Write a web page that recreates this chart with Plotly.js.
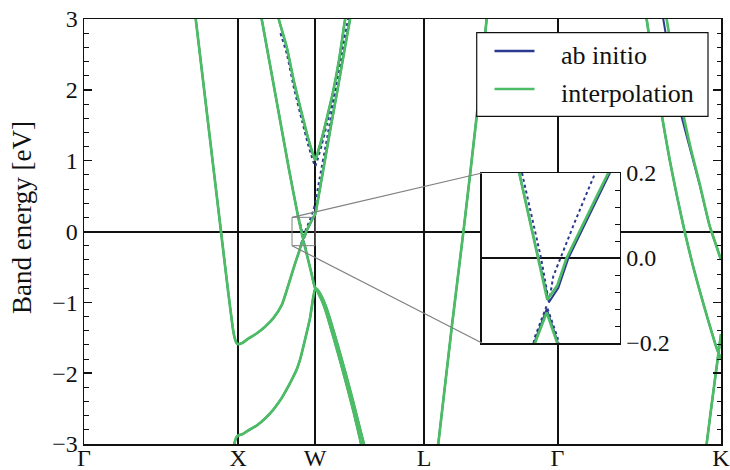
<!DOCTYPE html>
<html>
<head>
<meta charset="utf-8">
<script src="https://cdn.plot.ly/plotly-3.0.1.min.js"></script>
<style>html,body{margin:0;padding:0;background:#fff;}</style>
</head>
<body>
<div id="chart" style="width:730px;height:470px;"></div>
<script>
// High-symmetry points along the path Γ–X–W–L–Γ–K (path length in units of 2π/a)
const kLabels = ['Γ', 'X', 'W', 'L', 'Γ', 'K'];
const kTicks = [0, 1, 1.5, 2.2071, 3.0731, 4.1338];
const energyRange = [-3, 3];
const energyTitle = 'Band energy [eV]';

// Zoom window shown in the inset
const insetK = [1.35, 1.5];
const insetE = [-0.2, 0.2];

const seriesNames = ['ab initio', 'interpolation'];
const seriesColors = ['#2b3990', '#4cbd64'];

// Interpolated bands (eV)
const band1K = [0.962, 0.975, 0.988, 1.0, 1.03, 1.064, 1.12, 1.175, 1.23, 1.283, 1.33, 1.356, 1.38, 1.402, 1.434, 1.467, 1.5, 1.51, 1.525, 1.545, 1.57, 1.6, 1.65, 1.7, 1.75, 1.79, 1.80];
const band1E = [-3.12, -3.0, -2.91, -2.88, -2.86, -2.81, -2.74, -2.64, -2.51, -2.35, -2.17, -2.06, -1.95, -1.81, -1.53, -1.22, -0.80, -0.83, -0.89, -0.98, -1.13, -1.35, -1.73, -2.13, -2.55, -2.92, -3.02];

const band2K = [0.71, 0.725, 0.80, 0.889, 0.93, 0.95, 0.969, 0.98, 0.99, 1.0, 1.03, 1.064, 1.12, 1.175, 1.23, 1.283, 1.33, 1.37, 1.395, 1.4076, 1.4203, 1.4318, 1.45, 1.475, 1.5, 1.51, 1.525, 1.545, 1.57, 1.6, 1.65, 1.7, 1.75, 1.8, 1.82];
const band2E = [3.27, 3.0, 1.63, 0.0, -0.75, -1.10, -1.41, -1.52, -1.575, -1.59, -1.57, -1.515, -1.44, -1.345, -1.22, -1.04, -0.73, -0.45, -0.29, -0.2, -0.128, -0.2, -0.36, -0.58, -0.80, -0.81, -0.85, -0.93, -1.06, -1.26, -1.63, -2.02, -2.43, -2.86, -3.03];

const band3K = [1.14, 1.153, 1.25, 1.33, 1.3905, 1.4112, 1.421, 1.4318, 1.442, 1.4747, 1.4873, 1.5, 1.52, 1.55, 1.6, 1.65, 1.7, 1.735];
const band3E = [3.15, 3.0, 1.84, 0.88, 0.2, 0.0, -0.098, -0.065, 0.0, 0.145, 0.2, 0.24, 0.47, 0.84, 1.46, 2.06, 2.68, 3.1];

const band4K = [1.255, 1.265, 1.317, 1.363, 1.415, 1.454, 1.48, 1.492, 1.5, 1.508, 1.519, 1.544, 1.577, 1.616, 1.655, 1.694, 1.705];
const band4E = [3.1, 2.99, 2.59, 2.11, 1.65, 1.32, 1.13, 1.05, 1.01, 1.05, 1.13, 1.32, 1.61, 1.97, 2.42, 2.99, 3.12];

const band5K = [2.29, 2.30, 2.386, 2.465, 2.548, 2.613, 2.62];
const band5E = [-3.15, -2.98, -1.36, 0.05, 1.62, 3.0, 3.15];

const band6K = [3.64, 3.651, 3.70, 3.749, 3.80, 3.85, 3.90, 3.95, 4.00, 4.05, 4.106, 4.1338];
const band6E = [3.15, 3.0, 2.3, 1.65, 1.02, 0.48, -0.02, -0.47, -0.87, -1.25, -1.65, -1.80];

const band7K = [3.77, 3.781, 3.83, 3.889, 3.94, 3.997, 4.06, 4.10, 4.1338];
const band7E = [3.15, 3.0, 2.35, 1.65, 1.15, 0.66, 0.08, -0.18, -0.40];

const band8K = [4.035, 4.041, 4.08, 4.116, 4.1338];
const band8E = [-3.1, -2.99, -2.33, -1.74, -1.45];

// Ab initio bands where they differ from the interpolation
const abBand2K = [0.71, 0.725, 0.80, 0.889, 0.93, 0.95, 0.969, 0.98, 0.99, 1.0, 1.03, 1.064, 1.12, 1.175, 1.23, 1.283, 1.33, 1.37, 1.395, 1.4076, 1.4203, 1.4318, 1.45, 1.475, 1.5, 1.51, 1.525, 1.545, 1.57, 1.6, 1.65, 1.7, 1.75, 1.8, 1.82];
const abBand2E = [3.27, 3.0, 1.63, 0.0, -0.75, -1.10, -1.41, -1.52, -1.575, -1.59, -1.57, -1.515, -1.44, -1.345, -1.22, -1.04, -0.73, -0.45, -0.29, -0.195, -0.12, -0.195, -0.36, -0.58, -0.80, -0.81, -0.85, -0.93, -1.06, -1.26, -1.63, -2.02, -2.43, -2.86, -3.03];

const abBand3K = [1.14, 1.153, 1.25, 1.33, 1.3905, 1.4112, 1.4228, 1.433, 1.444, 1.476, 1.489, 1.5, 1.52, 1.55, 1.6, 1.65, 1.7, 1.735];
const abBand3E = [3.15, 3.0, 1.84, 0.88, 0.2, 0.0, -0.104, -0.07, 0.0, 0.145, 0.2, 0.24, 0.47, 0.84, 1.46, 2.06, 2.68, 3.1];

const abBand7K = [3.748, 3.759, 3.81, 3.875, 3.935, 3.995, 4.06, 4.10, 4.1338];
const abBand7E = [3.15, 3.0, 2.35, 1.65, 1.15, 0.66, 0.08, -0.18, -0.40];

// Ab initio branches near W drawn dotted
const abDot2K = [1.40, 1.4076, 1.4203, 1.4318, 1.44];
const abDot2E = [-0.255, -0.185, -0.113, -0.185, -0.255];

const abDot3K = [1.3935, 1.4142, 1.4228, 1.4275, 1.45, 1.473, 1.49, 1.5, 1.53, 1.58, 1.63, 1.68, 1.715];
const abDot3E = [0.2, 0.0, -0.104, -0.043, 0.08, 0.2, 0.31, 0.40, 0.76, 1.35, 1.95, 2.58, 3.02];

const abDot4K = [1.275, 1.317, 1.363, 1.415, 1.454, 1.48, 1.492, 1.5, 1.508, 1.519, 1.544, 1.577, 1.616, 1.655, 1.69];
const abDot4E = [2.80, 2.50, 2.02, 1.56, 1.23, 1.04, 0.96, 0.92, 0.96, 1.04, 1.23, 1.52, 1.88, 2.33, 2.80];

const interpBands = [
  [band1K, band1E], [band2K, band2E], [band3K, band3E], [band4K, band4E],
  [band5K, band5E], [band6K, band6E], [band7K, band7E], [band8K, band8E]
];
const abSolidBands = [
  [band1K, band1E], [abBand2K, abBand2E], [abBand3K, abBand3E], [band4K, band4E],
  [band5K, band5E], [band6K, band6E], [abBand7K, abBand7E], [band8K, band8E]
];
const abDottedBands = [[abDot2K, abDot2E], [abDot3K, abDot3E], [abDot4K, abDot4E]];

const FONT = "'Liberation Serif', 'Times New Roman', serif";
const INK = '#111';

const traces = [];
function addBands(bands, color, width, dash, xa, ya, shape) {
  bands.forEach(([k, e]) => {
    traces.push({
      type: 'scatter', mode: 'lines', x: k, y: e,
      xaxis: xa, yaxis: ya, hoverinfo: 'skip', showlegend: false,
      line: {color: color, width: width, dash: dash, shape: shape, smoothing: 0.6}
    });
  });
}
// main panel: smooth curves; inset: straight segments between k-points
[['x', 'y', 'spline'], ['x2', 'y2', 'linear']].forEach(([xa, ya, shape]) => {
  addBands(abDottedBands, seriesColors[0], 2, 'dot', xa, ya, shape);
  addBands(abSolidBands, seriesColors[0], 2, 'solid', xa, ya, shape);
  addBands(interpBands, seriesColors[1], 2.7, 'solid', xa, ya, shape);
});

// geometry of the main plot area
const mainDomainX = [0, 1];
const mainDomainY = [0, 1];
const insetDomainX = [0.6248, 0.8414];
const insetDomainY = [0.2376, 0.6376];
const kRange = [kTicks[0], kTicks[kTicks.length - 1]];

function toPaperX(k) {
  return mainDomainX[0] + (k - kRange[0]) / (kRange[1] - kRange[0]) * (mainDomainX[1] - mainDomainX[0]);
}
function toPaperY(e) {
  return mainDomainY[0] + (e - energyRange[0]) / (energyRange[1] - energyRange[0]) * (mainDomainY[1] - mainDomainY[0]);
}

const shapes = [
  // zoom window outline
  {type: 'rect', xref: 'x', yref: 'y', x0: insetK[0], x1: insetK[1], y0: insetE[0], y1: insetE[1],
   line: {color: '#808080', width: 1}, layer: 'above'},
  // connectors from window to inset
  {type: 'line', xref: 'paper', yref: 'paper', x0: toPaperX(insetK[0]), y0: toPaperY(insetE[1]),
   x1: insetDomainX[0], y1: insetDomainY[1], line: {color: '#808080', width: 1.2}, layer: 'above'},
  {type: 'line', xref: 'paper', yref: 'paper', x0: toPaperX(insetK[0]), y0: toPaperY(insetE[0]),
   x1: insetDomainX[0], y1: insetDomainY[0], line: {color: '#808080', width: 1.2}, layer: 'above'}
];

// legend box
const legX = [0.6165, 0.9796], legY = [0.7708, 0.9678];
const legLineRows = [0.9247, 0.8353];
const legTextRows = [0.9150, 0.8250];
shapes.push({type: 'rect', xref: 'paper', yref: 'paper', x0: legX[0], x1: legX[1], y0: legY[0], y1: legY[1],
  fillcolor: '#fff', line: {color: INK, width: 1.2}, layer: 'above'});
const annotations = [];
seriesNames.forEach((name, i) => {
  shapes.push({type: 'line', xref: 'paper', yref: 'paper', x0: 0.6444, x1: 0.7072, y0: legLineRows[i], y1: legLineRows[i],
    line: {color: seriesColors[i], width: 2.7}, layer: 'above'});
  annotations.push({xref: 'paper', yref: 'paper', x: 0.7457, y: legTextRows[i], xanchor: 'left', yanchor: 'middle',
    text: name, showarrow: false, font: {family: FONT, size: 26, color: INK}});
});

// vertical axis title
annotations.push({xref: 'paper', yref: 'paper', x: -0.0973, y: 0.532, xanchor: 'center', yanchor: 'middle',
  textangle: -90, text: energyTitle, showarrow: false, font: {family: FONT, size: 27, color: INK}});

const axisCommon = {
  showline: true, linecolor: INK, linewidth: 1.5, showgrid: false,
  tickfont: {family: FONT, size: 24, color: INK}
};

const layout = {
  width: 730, height: 470,
  margin: {l: 84, r: 9, t: 19, b: 26},
  paper_bgcolor: '#fff', plot_bgcolor: '#fff',
  showlegend: false,
  xaxis: Object.assign({}, axisCommon, {
    domain: mainDomainX, range: kRange, tickmode: 'array', tickvals: kTicks, ticktext: kLabels,
    ticks: '', showgrid: true, gridcolor: INK, gridwidth: 2, zeroline: false, mirror: true,
    ticklabelstandoff: -8, ticklabeloverflow: 'allow'
  }),
  yaxis: Object.assign({}, axisCommon, {
    domain: mainDomainY, range: energyRange, dtick: 1, tick0: 0,
    ticks: 'inside', ticklen: 8, tickwidth: 1.5, tickcolor: INK, mirror: 'ticks',
    minor: {dtick: 0.2, ticks: 'inside', ticklen: 4.5, tickwidth: 1, tickcolor: INK},
    zeroline: true, zerolinecolor: INK, zerolinewidth: 2
  }),
  xaxis2: Object.assign({}, axisCommon, {
    domain: insetDomainX, anchor: 'y2', range: insetK, showticklabels: false, ticks: '',
    zeroline: false, mirror: true
  }),
  yaxis2: Object.assign({}, axisCommon, {
    domain: insetDomainY, anchor: 'x2', range: insetE, side: 'right', dtick: 0.2, tick0: 0,
    tickformat: '.1f', ticks: 'inside', ticklen: 8, tickwidth: 1.5, tickcolor: INK, mirror: true,
    minor: {dtick: 0.04, ticks: 'inside', ticklen: 4.5, tickwidth: 1, tickcolor: INK},
    zeroline: true, zerolinecolor: INK, zerolinewidth: 2
  }),
  shapes: shapes,
  annotations: annotations
};

Plotly.newPlot('chart', traces, layout, {displayModeBar: false, staticPlot: true});
</script>
</body>
</html>
